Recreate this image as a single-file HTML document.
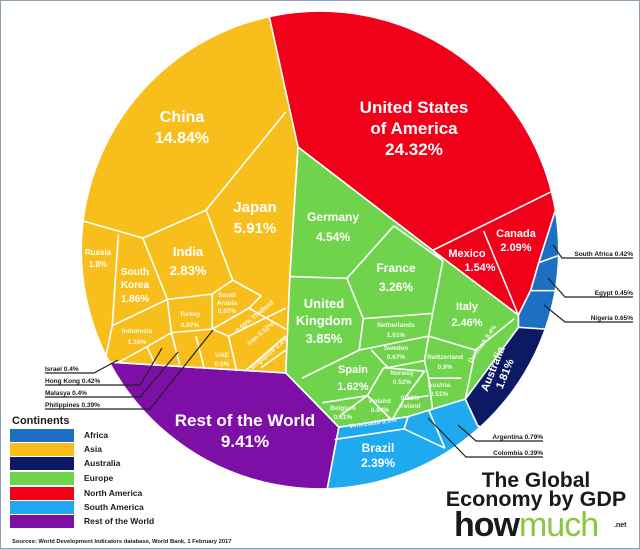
<!DOCTYPE html>
<html><head><meta charset="utf-8"><style>
html,body{margin:0;padding:0;background:#fff}
svg{display:block}
text{font-family:"Liberation Sans",sans-serif;font-weight:bold}
.w{fill:#fff;text-anchor:middle}
.k{fill:#1a1a1a}
</style></head><body>
<svg width="640" height="549" viewBox="0 0 640 549" xmlns="http://www.w3.org/2000/svg">
<rect x="0.5" y="0.5" width="639" height="548" fill="#fff" stroke="#8aa0b8"/>
<defs><clipPath id="c"><ellipse cx="784" cy="714" rx="583" ry="680"/></clipPath></defs>
<g transform="scale(0.40816,0.35014)">
<g clip-path="url(#c)" stroke="#fff" stroke-width="1.6" stroke-linejoin="round" fill="none">
<polygon vector-effect="non-scaling-stroke" fill="#f1001a" points="645,-30 730,420 1060,715 1270,900 1300,830 1320,750 1365,585 1500,540 1500,-30"/>
<polygon vector-effect="non-scaling-stroke" fill="#1c6fc2" points="1365,585 1320,750 1300,830 1270,900 1270,935 1335,940 1500,960 1500,540"/>
<polygon vector-effect="non-scaling-stroke" fill="#0c1a66" points="1270,935 1335,940 1500,960 1500,1400 1170,1215 1140,1140"/>
<polygon vector-effect="non-scaling-stroke" fill="#6fd44c" points="730,420 1060,715 1270,900 1270,935 1140,1140 1000,1190 830,1220 700,1065 710,790"/>
<polygon vector-effect="non-scaling-stroke" fill="#1fa9ee" points="830,1220 1000,1190 1140,1140 1170,1215 1400,1500 785,1500"/>
<polygon vector-effect="non-scaling-stroke" fill="#7d0fa6" points="280,1035 700,1065 830,1220 785,1500 100,1500 100,1000"/>
<polygon vector-effect="non-scaling-stroke" fill="#f8bf1c" points="645,-30 730,420 710,790 700,1065 280,1035 100,1000 100,-30"/>
<g vector-effect="non-scaling-stroke">
<path vector-effect="non-scaling-stroke" d="M1060,715L1355,545M1185,660L1270,900M1320,750L1380,725M1300,830L1370,830"/>
<path vector-effect="non-scaling-stroke" d="M700,320L505,600L350,680L200,630M290,670L275,930M350,680L410,855L275,930L260,1015M505,600L570,800L520,840L410,855M570,800L640,845M410,855L420,950L520,940L520,840M420,950L360,990L290,1035M640,845L610,880L520,940M520,940L560,960L580,1060M560,960L700,880M600,1060L700,960M640,1050L700,1000M360,990L380,1040M420,950L440,1040M480,960L500,1050M610,880L700,940"/>
<path vector-effect="non-scaling-stroke" d="M965,645L850,795L710,790M850,795L890,910L1060,895L1085,745L965,645M1085,745L1060,715M890,910L880,1000L740,1080M880,1000L1050,960L1060,895M910,1000L950,1050L1040,1030L1050,960M1050,960L1165,1000L1260,910M1040,1030L1050,1080L1130,1080M1165,1000L1140,1140M940,1050L900,1130L830,1190M790,1150L900,1130L960,1200M940,1050L1040,1060L990,1140L960,1200M1050,1080L1060,1170M990,1140L1050,1130"/>
<path vector-effect="non-scaling-stroke" d="M820,1255L990,1225L1000,1190M990,1225L1090,1280M1050,1170L1090,1280"/>
</g>
</g>
</g>
<text class="w" font-size="17" x="414" y="113">United States</text>
<text class="w" font-size="17" x="414" y="134">of America</text>
<text class="w" font-size="17" x="414" y="155">24.32%</text>
<text class="w" font-size="16" x="182" y="122">China</text>
<text class="w" font-size="16" x="182" y="143">14.84%</text>
<text class="w" font-size="15" x="255" y="212">Japan</text>
<text class="w" font-size="15" x="255" y="233">5.91%</text>
<text class="w" font-size="12" x="333" y="221">Germany</text>
<text class="w" font-size="12" x="333" y="241">4.54%</text>
<text class="w" font-size="12" x="396" y="272">France</text>
<text class="w" font-size="12" x="396" y="291">3.26%</text>
<text class="w" font-size="13" x="324" y="308">United</text>
<text class="w" font-size="13" x="324" y="325">Kingdom</text>
<text class="w" font-size="13" x="324" y="343">3.85%</text>
<text class="w" font-size="11" x="467" y="310">Italy</text>
<text class="w" font-size="11" x="467" y="326">2.46%</text>
<text class="w" font-size="13" x="188" y="256">India</text>
<text class="w" font-size="13" x="188" y="275">2.83%</text>
<text class="w" font-size="8" x="98" y="255">Russia</text>
<text class="w" font-size="8" x="98" y="267">1.8%</text>
<text class="w" font-size="10" x="135" y="275">South</text>
<text class="w" font-size="10" x="135" y="288">Korea</text>
<text class="w" font-size="10" x="135" y="302">1.86%</text>
<text class="w" font-size="11" x="467" y="257">Mexico</text>
<text class="w" font-size="11" x="480" y="271">1.54%</text>
<text class="w" font-size="11" x="516" y="237">Canada</text>
<text class="w" font-size="11" x="516" y="251">2.09%</text>
<text class="w" font-size="11" x="353" y="373">Spain</text>
<text class="w" font-size="11" x="353" y="390">1.62%</text>
<text class="w" font-size="17" x="245" y="426">Rest of the World</text>
<text class="w" font-size="17" x="245" y="447">9.41%</text>
<text class="w" font-size="12" x="378" y="452">Brazil</text>
<text class="w" font-size="12" x="378" y="467">2.39%</text>
<g transform="translate(498,371) rotate(-68)"><text class="w" font-size="11" x="0" y="-2">Australia</text><text class="w" font-size="11" x="0" y="11">1.81%</text></g>
<g font-size="6.5" opacity="0.9">
<text class="w" x="190" y="316">Turkey</text><text class="w" x="190" y="327">0.97%</text>
<text class="w" x="137" y="333">Indonesia</text><text class="w" x="137" y="344">1.16%</text>
<text class="w" x="227" y="297">Saudi</text><text class="w" x="227" y="305">Arabia</text><text class="w" x="227" y="313">0.87%</text>
<text class="w" x="396" y="327">Netherlands</text><text class="w" x="396" y="337">1.01%</text>
<text class="w" x="396" y="350">Sweden</text><text class="w" x="396" y="359">0.67%</text>
<text class="w" x="445" y="359">Switzerland</text><text class="w" x="445" y="369">0.9%</text>
<text class="w" x="402" y="375">Norway</text><text class="w" x="402" y="384">0.52%</text>
<text class="w" x="439" y="387">Austria</text><text class="w" x="439" y="396">0.51%</text>
<text class="w" x="380" y="403">Poland</text><text class="w" x="380" y="412">0.84%</text>
<text class="w" x="343" y="410">Belgium</text><text class="w" x="343" y="419">0.61%</text>
<text class="w" x="222" y="357">UAE</text><text class="w" x="222" y="366">0.5%</text>
<text class="w" x="410" y="400">0.38%</text><text class="w" x="410" y="408">Ireland</text>
<text class="w" transform="translate(373,425) rotate(-8)">Venezuela 0.5%</text>
<text class="w" transform="translate(256,318) rotate(-40)">0.55% Thailand</text>
<text class="w" transform="translate(262,335) rotate(-40)">Iran 0.52%</text>
<text class="w" transform="translate(270,355) rotate(-40)">Singapore 0.4%</text>
<text class="w" transform="translate(484,345) rotate(-55)">Denmark 0.4%</text>
</g>
<g stroke="#222" stroke-width="1.2" fill="none">
<path d="M45,373H94L118,360"/><path d="M45,385H140L162,348"/><path d="M45,397H140L178,352"/><path d="M45,409H150L213,330"/>
<path d="M633,258H562L553,245"/><path d="M633,297H565L548,278"/><path d="M633,322H565L544,305"/>
<path d="M543,441H476L458,425"/><path d="M543,457H466L428,418"/>
</g>
<g font-size="6.5" class="k">
<text x="45" y="371" class="k">Israel 0.4%</text>
<text x="45" y="383" class="k">Hong Kong 0.42%</text>
<text x="45" y="395" class="k">Malasya 0.4%</text>
<text x="45" y="407" class="k">Philippines 0.39%</text>
<text x="633" y="256" text-anchor="end" class="k">South Africa 0.42%</text>
<text x="633" y="295" text-anchor="end" class="k">Egypt 0.45%</text>
<text x="633" y="320" text-anchor="end" class="k">Nigeria 0.65%</text>
<text x="543" y="439" text-anchor="end" class="k">Argentina 0.79%</text>
<text x="543" y="455" text-anchor="end" class="k">Colombia 0.39%</text>
</g>
<text x="12" y="424" font-size="11" class="k">Continents</text>
<rect x="10" y="429" width="64" height="13" fill="#1c6fc2"/>
<rect x="10" y="443" width="64" height="13" fill="#f8bf1c"/>
<rect x="10" y="457" width="64" height="13" fill="#0c1a66"/>
<rect x="10" y="472" width="64" height="13" fill="#6fd44c"/>
<rect x="10" y="487" width="64" height="13" fill="#f1001a"/>
<rect x="10" y="501" width="64" height="13" fill="#1fa9ee"/>
<rect x="10" y="515" width="64" height="13" fill="#7d0fa6"/>
<g font-size="8.5" class="k">
<text x="84" y="438">Africa</text><text x="84" y="452">Asia</text><text x="84" y="466">Australia</text>
<text x="84" y="481">Europe</text><text x="84" y="496">North America</text><text x="84" y="510">South America</text><text x="84" y="524">Rest of the World</text>
</g>
<text x="12" y="543" font-size="5.8" class="k">Sources: World Development Indicators database, World Bank, 1 February 2017</text>
<text x="536" y="487" font-size="21" text-anchor="middle" class="k">The Global</text>
<text x="536" y="506" font-size="21.5" text-anchor="middle" class="k">Economy by GDP</text>
<text x="454" y="536" font-size="34" class="k" letter-spacing="-1">how<tspan fill="#8cc63f" font-weight="normal">much</tspan></text>
<text x="614" y="527" font-size="7" class="k" font-weight="normal">.net</text>
</svg>
</body></html>
